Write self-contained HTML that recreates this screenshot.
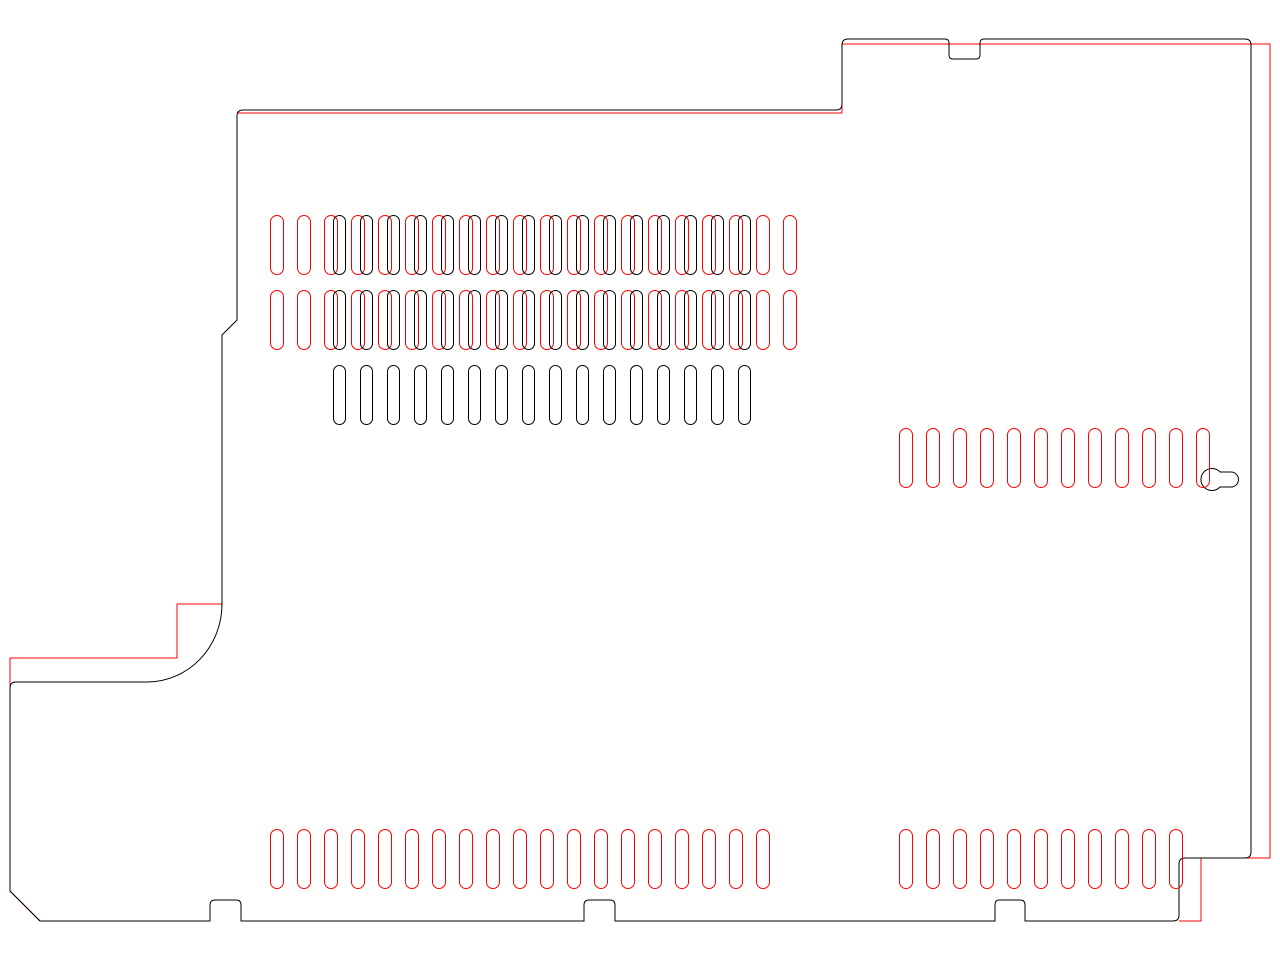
<!DOCTYPE html><html><head><style>body{margin:0;background:#fff}svg{display:block}</style></head><body>
<svg width="1280" height="960" viewBox="0 0 1280 960" xmlns="http://www.w3.org/2000/svg" fill="none" stroke-width="1">
<path stroke="#f00" d="M40 921 L10 891 V658 H177 V604 H222 M237 113 H842 V44 H1270 V858 H1201 V921 H1179"/>
<path stroke="#000" d="M40 921 L10 891 V688 Q10 682 16 682 H148 A75 78 0 0 0 222 604 V335 L237 320 V116 Q237 110 243 110 H836 Q842 110 842 104 V45 Q842 39 848 39 H945 Q949 39 949 43 V55 Q949 59 953 59 H976 Q980 59 980 55 V43 Q980 39 984 39 H1245 Q1251 39 1251 45 V852 Q1251 858 1245 858 H1185 Q1179 858 1179 864 V915 Q1179 921 1173 921 H1025 V905 Q1025 900 1020 900 H999 Q995 900 995 905 V921 H615 V905 Q615 900 610 900 H589 Q584 900 584 905 V921 H241 V905 Q241 900 236 900 H215 Q210 900 210 905 V921 Z"/>
<path stroke="#000" d="M1220 472 H1231 A5.5 5.5 0 0 1 1231 487 H1220 A11 11 0 1 1 1220 472 Z"/>
<g id="s"></g>
</svg>
<script>
var g=document.getElementById('s'),h='';
function row(x0,n,y,w,c){for(var i=0;i<n;i++){var x=x0+i*27;h+='<rect x="'+x+'" y="'+y+'" width="'+w+'" height="59" rx="'+(w/2)+'" stroke="'+c+'"/>';}}
row(270.5,20,215.5,13,'#f00');row(270.5,20,290.5,13,'#f00');
row(333.5,16,215.5,12,'#000');row(333.5,16,290.5,12,'#000');row(333.5,16,365.5,12,'#000');
row(899.5,12,428.5,13,'#f00');
row(270.5,19,829.5,13,'#f00');row(899.5,11,829.5,13,'#f00');
g.innerHTML=h;
</script>
</body></html>
